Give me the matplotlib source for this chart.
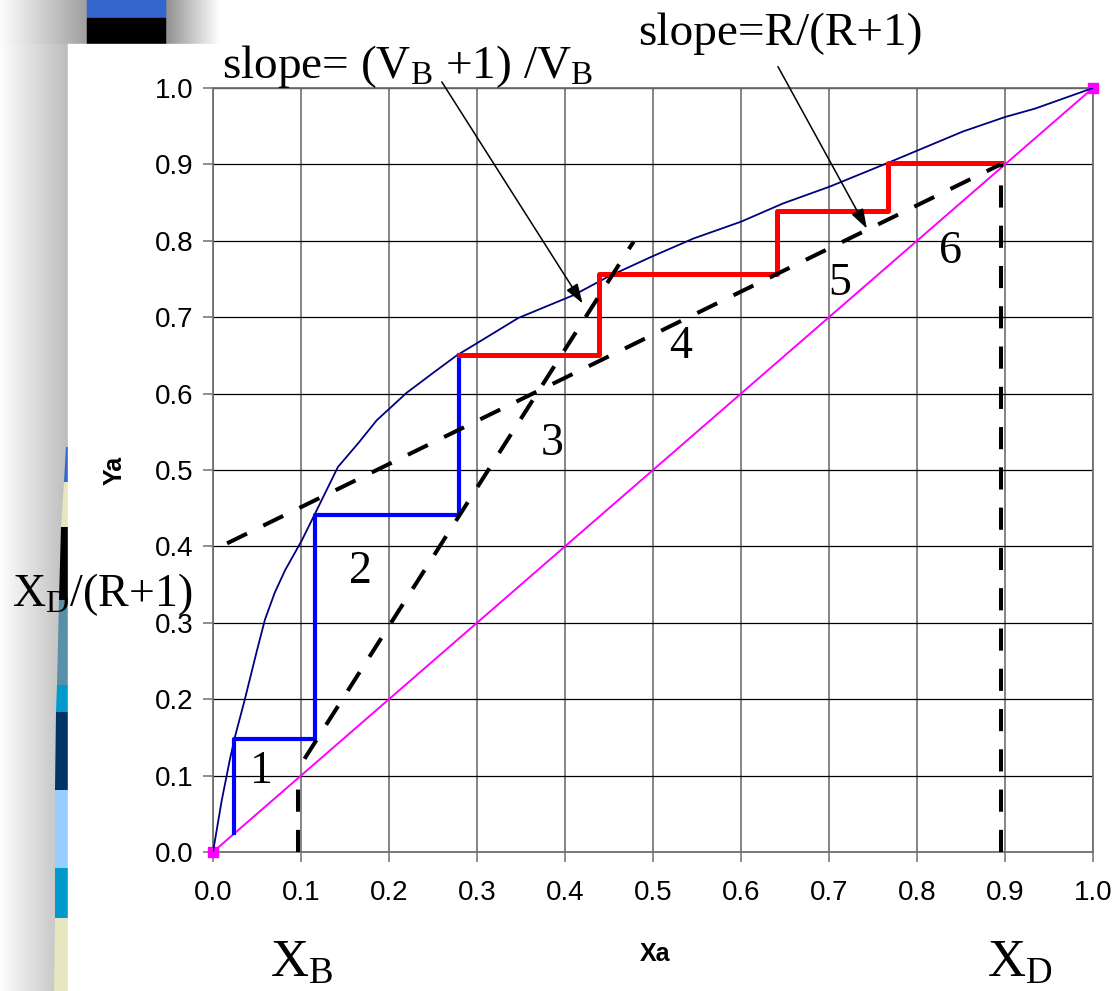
import numpy as np
import matplotlib
matplotlib.use("Agg")
import matplotlib.pyplot as plt
from matplotlib.patches import Rectangle, Polygon
from matplotlib.ticker import FormatStrFormatter, MultipleLocator


# =========================================================
# Global parameters
# =========================================================
FIG_W, FIG_H, DPI = 1117, 991, 100
AX_LEFT, AX_RIGHT, AX_BOTTOM, AX_TOP = 213, 1093, 852, 88   # pixels

SERIF = "Liberation Serif"
SANS = "Liberation Sans"

plt.rcParams["mathtext.fontset"] = "custom"
plt.rcParams["mathtext.rm"] = SERIF
plt.rcParams["mathtext.it"] = SERIF + ":italic"

# ---- Equilibrium curve ----
x_eq = [0.0, 0.010, 0.019, 0.025, 0.036, 0.050, 0.059, 0.070, 0.082, 0.101,
        0.116, 0.142, 0.165, 0.186, 0.220, 0.250, 0.277, 0.300, 0.347, 0.410,
        0.449, 0.498, 0.546, 0.600, 0.648, 0.701, 0.769, 0.852, 0.900, 0.934, 1.0]
y_eq = [0.0, 0.068, 0.120, 0.151, 0.199, 0.264, 0.304, 0.339, 0.369, 0.408,
        0.443, 0.504, 0.535, 0.565, 0.601, 0.627, 0.650, 0.666, 0.699, 0.729,
        0.753, 0.779, 0.803, 0.825, 0.849, 0.871, 0.903, 0.943, 0.962, 0.973, 1.0]

# ---- 45 degree line ----
x_diag = [0.0, 1.0]
y_diag = [0.0, 1.0]

# ---- Stripping section steps (blue) ----
x_blue = [0.024, 0.024, 0.116, 0.116, 0.279, 0.279]
y_blue = [0.025, 0.148, 0.148, 0.441, 0.441, 0.651]

# ---- Rectifying section steps (red) ----
x_red = [0.279, 0.439, 0.439, 0.641, 0.641, 0.767, 0.767, 0.895]
y_red = [0.651, 0.651, 0.757, 0.757, 0.839, 0.839, 0.902, 0.902]

# ---- Operating lines ----
x_rect = [0.016, 0.895]
y_rect = [0.404, 0.900]
x_strip = [0.104, 0.478]
y_strip = [0.122, 0.799]

# ---- Composition markers ----
x_xb = [0.097, 0.097]
y_xb = [0.0, 0.095]
x_xd = [0.895, 0.895]
y_xd = [0.0, 0.900]

# ---- Stage numbers ----
stage_labels = ["1", "2", "3", "4", "5", "6"]
stage_x = [0.055, 0.167, 0.385, 0.531, 0.712, 0.838]
stage_y = [0.105, 0.367, 0.535, 0.661, 0.744, 0.786]

# ---- Arrows (tail -> head) ----
arrow_tails = [(0.260, 1.008), (0.642, 1.028)]
arrow_heads = [(0.420, 0.718), (0.743, 0.816)]


# =========================================================
# Slide decoration behind the chart
# =========================================================
def draw_background(fig):
    bg = fig.add_axes([0, 0, 1, 1], zorder=-10)
    bg.set_xlim(0, FIG_W)
    bg.set_ylim(FIG_H, 0)
    bg.axis("off")

    # grey shadow on the left and top-left
    bg.imshow(np.linspace(0.99, 0.74, 64)[None, :], cmap="gray", vmin=0, vmax=1,
              extent=[0, 68, FIG_H, 0], aspect="auto")
    bg.imshow(np.linspace(0.99, 0.62, 64)[None, :], cmap="gray", vmin=0, vmax=1,
              extent=[0, 88, 44, 0], aspect="auto")
    bg.imshow(np.linspace(0.55, 1.0, 64)[None, :], cmap="gray", vmin=0, vmax=1,
              extent=[164, 220, 44, 0], aspect="auto")
    bg.add_patch(Rectangle((87, 0), 78, 18, color="#3366cc"))
    bg.add_patch(Rectangle((87, 18), 78, 26, color="black"))

    # coloured stripes peeking out on the left edge
    stripes = [(447, 482, "#3366cc"), (482, 527, "#e6e6c0"), (527, 600, "black"),
               (600, 685, "#5890a8"), (685, 712, "#0099cc"), (712, 790, "#003366"),
               (790, 868, "#99ccff"), (868, 918, "#0099cc"), (918, 991, "#e6e6c0")]
    edge_y = [420, 447, 527, 600, 712, 991]
    edge_x = [68, 66, 61, 59, 56, 54]
    for y0, y1, c in stripes:
        bg.add_patch(Polygon([(np.interp(y0, edge_y, edge_x), y0), (70, y0), (70, y1),
                              (np.interp(y1, edge_y, edge_x), y1)],
                             closed=True, color=c, lw=0))

    # white panel of the chart image
    bg.add_patch(Rectangle((68, 44), FIG_W - 68, FIG_H - 44, color="white"))


# =========================================================
# Main plot
# =========================================================
fig = plt.figure(figsize=(FIG_W / DPI, FIG_H / DPI), dpi=DPI)
draw_background(fig)

ax = fig.add_axes([AX_LEFT / FIG_W, (FIG_H - AX_BOTTOM) / FIG_H,
                   (AX_RIGHT - AX_LEFT) / FIG_W, (AX_BOTTOM - AX_TOP) / FIG_H])
ax.set_xlim(0, 1)
ax.set_ylim(0, 1)

# ------------------------------
# Grid & axes
# ------------------------------
ax.set_axisbelow(True)
ax.xaxis.set_major_locator(MultipleLocator(0.1))
ax.yaxis.set_major_locator(MultipleLocator(0.1))
ax.xaxis.set_major_formatter(FormatStrFormatter("%.1f"))
ax.yaxis.set_major_formatter(FormatStrFormatter("%.1f"))
ax.grid(axis="x", color="#707070", lw=1.2)
ax.grid(axis="y", color="black", lw=0.9)
for s in ax.spines.values():
    s.set_color("#707070")
    s.set_linewidth(1.3)
ax.tick_params(direction="out", length=7, width=1.1, color="#707070",
               labelsize=20, labelcolor="black")
ax.tick_params(axis="x", pad=13)
ax.tick_params(axis="y", pad=7)
for lab in ax.get_xticklabels() + ax.get_yticklabels():
    lab.set_family(SANS)

ax.set_xlabel("Xa", fontsize=18, fontweight="bold", family=SANS)
ax.set_ylabel("Ya", fontsize=18, fontweight="bold", family=SANS)
ax.xaxis.set_label_coords(0.502, -0.118)
ax.yaxis.set_label_coords(-0.098, 0.5)

# ------------------------------
# Curves
# ------------------------------
ax.plot(x_diag, y_diag, color="#ff00ff", lw=1.4, marker="s", ms=7,
        clip_on=False, zorder=3)
ax.plot(x_eq, y_eq, color="#000080", lw=1.3, zorder=3)
ax.plot(x_blue, y_blue, color="#0000ff", lw=3.0, zorder=4)
ax.plot(x_red, y_red, color="#ff0000", lw=3.6, zorder=4)

dash = dict(color="black", lw=2.9, dashes=(5.5, 4.5), zorder=5)
ax.plot(x_rect, y_rect, **dash)
ax.plot(x_strip, y_strip, **dash)
ax.plot(x_xb, y_xb, **dash)
ax.plot(x_xd, y_xd, **dash)

# ------------------------------
# Stage numbers
# ------------------------------
for lab, sx, sy in zip(stage_labels, stage_x, stage_y):
    ax.text(sx, sy, lab, fontsize=33, family=SERIF, ha="center", va="center", zorder=6)

# ------------------------------
# Annotations
# ------------------------------
for tail, head in zip(arrow_tails, arrow_heads):
    ax.annotate("", xy=head, xytext=tail, annotation_clip=False,
                arrowprops=dict(arrowstyle="-|>,head_length=0.6,head_width=0.2",
                                mutation_scale=20, color="black", lw=1.1,
                                shrinkA=0, shrinkB=0), zorder=7)

ax.text(0.0102, 1.013, r"slope= (V$_\mathrm{B}$ +1) /V$_\mathrm{B}$", fontsize=34,
        family=SERIF, ha="left", va="baseline", clip_on=False)
ax.text(0.483, 1.056, "slope=R/(R+1)", fontsize=34, family=SERIF,
        ha="left", va="baseline", clip_on=False)
ax.text(-0.228, 0.322, r"X$_\mathrm{D}$/(R+1)", fontsize=33, family=SERIF,
        ha="left", va="baseline", clip_on=False, zorder=8)
ax.text(0.065, -0.164, r"X$_\mathrm{B}$", fontsize=38, family=SERIF,
        ha="left", va="baseline", clip_on=False)
ax.text(0.880, -0.164, r"X$_\mathrm{D}$", fontsize=38, family=SERIF,
        ha="left", va="baseline", clip_on=False)

# -----------------------------------------------------
# Save figure
# -----------------------------------------------------
plt.savefig("out.png", dpi=DPI)
plt.close()
